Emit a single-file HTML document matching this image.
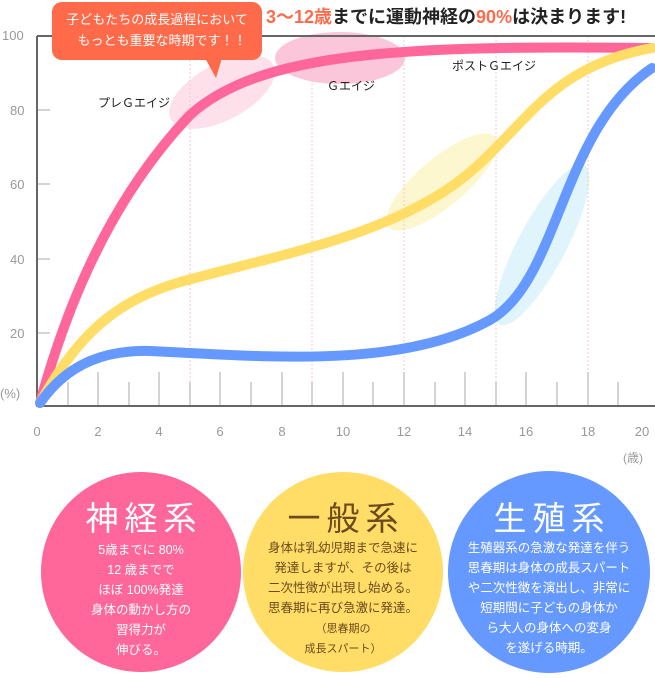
<!DOCTYPE html>
<html><head><meta charset="utf-8"><style>
body{margin:0;background:#fff;width:655px;height:673px;overflow:hidden;font-family:"Liberation Sans","Noto Sans CJK JP",sans-serif}
</style></head><body>
<svg width="655" height="673" viewBox="0 0 655 673" xmlns="http://www.w3.org/2000/svg" font-family="Liberation Sans, Noto Sans CJK JP, sans-serif">
<ellipse cx="222" cy="92" rx="58" ry="28" transform="rotate(-28 222 92)" fill="#fde0ea"/>
<ellipse cx="340" cy="58" rx="65" ry="26" fill="#fcc6da"/>
<ellipse cx="442" cy="182" rx="70" ry="24" transform="rotate(-40 442 182)" fill="#fdf7d0"/>
<ellipse cx="542" cy="245" rx="90" ry="24" transform="rotate(-62 542 245)" fill="#dff4fb"/>
<g stroke="#f7c4d4" stroke-width="1" stroke-dasharray="2,2">
<line x1="190" y1="36" x2="190" y2="405"/><line x1="312" y1="36" x2="312" y2="405"/><line x1="404" y1="36" x2="404" y2="405"/><line x1="496" y1="36" x2="496" y2="405"/><line x1="588" y1="36" x2="588" y2="405"/>
</g>
<g stroke="#aaa" stroke-width="1">
<line x1="68" y1="382" x2="68" y2="405"/><line x1="98" y1="372" x2="98" y2="405"/><line x1="129" y1="382" x2="129" y2="405"/><line x1="159" y1="372" x2="159" y2="405"/><line x1="190" y1="382" x2="190" y2="405"/><line x1="220" y1="372" x2="220" y2="405"/><line x1="251" y1="382" x2="251" y2="405"/><line x1="282" y1="372" x2="282" y2="405"/><line x1="312" y1="382" x2="312" y2="405"/><line x1="343" y1="372" x2="343" y2="405"/><line x1="373" y1="382" x2="373" y2="405"/><line x1="404" y1="372" x2="404" y2="405"/><line x1="435" y1="382" x2="435" y2="405"/><line x1="465" y1="372" x2="465" y2="405"/><line x1="496" y1="382" x2="496" y2="405"/><line x1="526" y1="372" x2="526" y2="405"/><line x1="557" y1="382" x2="557" y2="405"/><line x1="588" y1="372" x2="588" y2="405"/><line x1="618" y1="382" x2="618" y2="405"/>
<line x1="37" y1="110" x2="50" y2="110"/><line x1="37" y1="184" x2="50" y2="184"/><line x1="37" y1="259" x2="50" y2="259"/><line x1="37" y1="333" x2="50" y2="333"/>
</g>
<path d="M37 36 V406 H655" fill="none" stroke="#666" stroke-width="2"/>
<line x1="37" y1="36" x2="655" y2="36" stroke="#666" stroke-width="2"/>
<g fill="#999" font-size="13">
<text x="2" y="40">100</text><text x="10" y="115">80</text><text x="10" y="189">60</text><text x="10" y="264">40</text><text x="10" y="338">20</text><text x="0" y="398">(%)</text>
<g text-anchor="middle"><text x="37" y="436">0</text><text x="98" y="436">2</text><text x="159" y="436">4</text><text x="220" y="436">6</text><text x="282" y="436">8</text><text x="343" y="436">10</text><text x="404" y="436">12</text><text x="465" y="436">14</text><text x="526" y="436">16</text><text x="588" y="436">18</text><text x="642" y="436">20</text></g>
<text x="623" y="462" font-size="12">(歳)</text>
</g>
<g fill="none" stroke-width="10" stroke-linecap="round">
<path d="M40 403 C60 330, 100 210, 190 115 C260 52, 400 45, 652 48" stroke="#ff6699"/>
<path d="M40 403 C80 330, 120 300, 180 282 C280 255, 360 240, 430 200 C520 150, 530 70, 652 48" stroke="#ffdd66"/>
<path d="M40 403 C70 360, 110 350, 150 351 C260 356, 400 370, 490 320 C560 280, 560 130, 652 68" stroke="#6699ff"/>
</g>
<g font-size="12" fill="#222"><text x="98" y="107">プレＧエイジ</text><text x="327" y="90">Ｇエイジ</text><text x="452" y="70">ポストＧエイジ</text></g>
<rect x="52" y="2" width="210" height="58" rx="10" fill="#ff6a4a"/>
<path d="M205 58 L216 78 L222 58 Z" fill="#ff6a4a"/>
<g fill="#fff" font-size="13" text-anchor="middle"><text x="157" y="24">子どもたちの成長過程において</text><text x="162" y="45">もっとも重要な時期です！！</text></g>
<text x="266" y="23" font-size="18" font-weight="bold" fill="#222"><tspan fill="#ff6a4a">3〜12歳</tspan>までに運動神経の<tspan fill="#ff6a4a">90%</tspan>は決まります!</text>
<circle cx="141" cy="572" r="100" fill="#ff6699"/>
<circle cx="343" cy="572" r="100" fill="#ffdd66"/>
<circle cx="549" cy="572" r="101" fill="#6699ff"/>
<g text-anchor="middle" font-size="12.5">
<text x="144" y="530" font-size="33" fill="#fff" letter-spacing="6">神経系</text>
<g fill="#fff"><text x="141" y="554">5歳までに 80%</text><text x="141" y="574">12 歳までで</text><text x="141" y="594">ほぼ 100%発達</text><text x="141" y="614">身体の動かし方の</text><text x="141" y="634">習得力が</text><text x="141" y="654">伸びる。</text></g>
<text x="346" y="530" font-size="33" fill="#6b4a1f" letter-spacing="6">一般系</text>
<g fill="#6b4a1f"><text x="343" y="552">身体は乳幼児期まで急速に</text><text x="343" y="572">発達しますが、その後は</text><text x="343" y="592">二次性徴が出現し始める。</text><text x="343" y="612">思春期に再び急激に発達。</text><text x="343" y="632" font-size="11">（思春期の</text><text x="343" y="652" font-size="11">成長スパート）</text></g>
<text x="552" y="530" font-size="33" fill="#fff" letter-spacing="6">生殖系</text>
<g fill="#fff"><text x="549" y="552">生殖器系の急激な発達を伴う</text><text x="549" y="572">思春期は身体の成長スパート</text><text x="549" y="592">や二次性徴を演出し、非常に</text><text x="549" y="612">短期間に子どもの身体か</text><text x="549" y="632">ら大人の身体への変身</text><text x="549" y="652">を遂げる時期。</text></g>
</g>
</svg>
</body></html>
